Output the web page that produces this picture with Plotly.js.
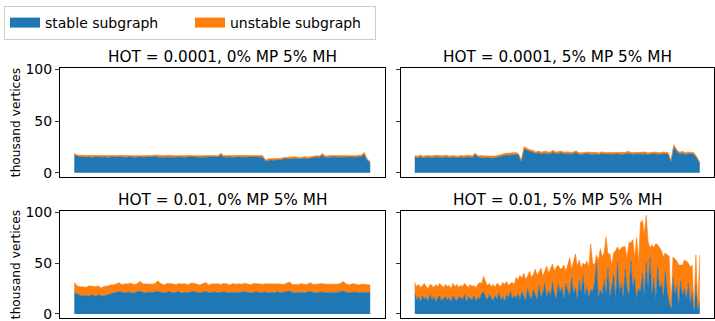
<!DOCTYPE html>
<html><head><meta charset="utf-8">
<script src="https://cdn.plot.ly/plotly-3.0.1.min.js"></script>
<style>html,body{margin:0;padding:0;background:#fff}#chart{width:715px;height:321px}</style>
</head><body><div id="chart"></div>
<script>
const panelTitles = ["HOT = 0.0001, 0% MP 5% MH", "HOT = 0.0001, 5% MP 5% MH", "HOT = 0.01, 0% MP 5% MH", "HOT = 0.01, 5% MP 5% MH"];
const seriesNames = ["stable subgraph", "unstable subgraph"];
const yTickVals = [0, 50, 100];
const yTitle = "thousand vertices";

const stableTL = [17.0,15.8,15.2,15.6,15.0,15.4,14.8,15.3,15.6,15.1,
 15.4,14.9,15.2,15.5,15.0,16.0,15.2,14.8,15.3,15.5,
 14.9,15.3,15.6,15.0,15.2,14.7,15.4,15.8,15.1,15.0,
 15.3,15.5,14.9,15.2,15.0,15.4,15.1,14.8,15.3,15.5,
 15.0,15.2,14.8,15.3,15.1,15.4,15.4,15.0,15.2,17.2,
 15.3,15.1,15.4,14.8,15.2,15.5,15.0,15.3,14.9,15.2,
 15.4,15.1,15.3,15.0,11.0,11.8,12.4,12.0,12.6,12.2,
 13.4,13.8,13.2,13.6,13.9,13.4,13.7,14.0,13.5,14.2,
 14.6,15.0,15.0,16.8,14.9,15.3,15.1,15.4,15.0,15.2,
 15.3,14.9,15.2,15.4,15.0,15.6,15.6,18.0,12.0,9.8];
const unstableTL = [1.6,1.4,1.8,1.2,1.6,1.3,1.9,1.4,1.1,1.7,
 1.5,1.8,1.3,1.2,1.7,1.4,1.6,1.9,1.3,1.5,
 1.8,1.4,1.2,1.6,1.5,1.9,1.3,1.4,1.7,1.6,
 1.3,1.5,1.8,1.4,1.6,1.2,1.7,1.9,1.4,1.3,
 1.6,1.5,1.8,1.3,1.6,1.5,1.4,1.7,1.3,1.8,
 1.4,1.6,1.3,1.9,1.5,1.2,1.7,1.4,1.8,1.5,
 1.3,1.6,1.4,1.7,1.5,1.8,1.3,1.6,1.4,1.7,
 1.5,1.3,1.8,1.4,1.6,1.5,1.2,1.7,1.6,1.4,
 1.5,1.6,1.3,1.8,1.4,1.5,1.7,1.3,1.6,1.5,
 1.4,1.8,1.5,1.3,1.6,1.4,1.5,1.7,1.4,1.2];

const stableTR = [15.0,14.6,15.2,14.4,14.9,15.1,14.5,14.8,15.3,14.6,
 14.9,15.2,14.5,14.8,15.0,14.4,15.1,14.7,14.9,15.2,
 14.6,17.4,15.0,14.8,14.2,14.9,14.5,14.0,14.6,15.3,
 16.0,16.8,17.2,16.9,17.5,17.8,17.3,10.5,23.0,21.4,
 20.5,19.8,18.6,19.2,18.4,19.0,18.5,17.9,20.2,18.3,
 18.8,19.4,18.1,18.6,17.8,18.4,19.5,18.0,17.6,18.2,
 18.5,17.9,18.3,18.0,17.7,18.4,18.1,17.8,18.2,17.9,
 18.3,18.0,17.6,18.2,19.0,18.1,17.8,18.3,17.9,18.0,
 18.2,17.7,18.1,18.4,17.9,18.0,18.3,17.8,18.1,10.5,
 25.0,20.6,18.4,18.9,17.8,18.2,18.5,17.6,14.0,9.0];
const unstableTR = [1.8,1.5,2.0,1.6,1.9,1.4,1.7,2.1,1.5,1.8,
 1.6,1.9,1.5,2.0,1.7,1.6,1.8,1.5,2.1,1.7,
 1.9,1.6,1.5,1.8,2.0,1.4,1.7,1.9,1.6,1.8,
 1.5,1.9,1.7,2.0,1.6,1.8,1.5,1.6,2.2,1.9,
 1.7,2.0,1.6,1.8,1.5,1.9,1.7,2.1,1.6,1.8,
 1.9,1.5,1.8,1.7,2.0,1.6,1.8,1.5,1.9,1.7,
 1.6,1.9,1.7,1.8,1.5,2.0,1.6,1.9,1.7,1.8,
 1.5,1.8,2.0,1.6,1.9,1.7,1.8,1.5,2.1,1.7,
 1.9,1.6,1.8,1.7,2.0,1.5,1.8,1.9,1.6,1.5,
 2.2,1.8,1.6,1.9,1.7,2.0,1.5,1.8,1.4,1.2];

const stableBL = [21.0,19.5,18.2,17.6,18.4,17.8,18.9,17.4,18.6,18.0,
 17.6,18.8,19.5,20.6,21.2,22.0,21.4,20.8,21.6,21.0,
 20.4,21.8,22.6,21.2,20.6,21.5,20.9,21.8,22.4,21.1,
 20.7,21.4,21.9,20.8,21.2,21.7,20.5,21.3,21.0,21.6,
 22.2,21.0,20.6,21.4,21.9,20.8,21.2,21.5,20.9,21.3,
 21.7,21.0,20.6,21.4,21.2,20.8,21.6,22.0,21.1,20.7,
 21.3,21.8,20.9,21.2,21.5,20.6,21.4,21.0,21.7,20.8,
 21.2,21.9,22.8,21.0,20.6,21.4,21.1,20.8,21.5,22.3,
 21.0,20.7,21.3,21.6,20.9,21.2,21.4,20.6,21.1,21.8,
 22.6,21.3,20.8,21.2,21.5,20.9,21.0,21.3,20.8,21.1];
const unstableBL = [9.8,8.0,8.6,9.2,7.8,10.0,8.2,9.4,8.8,7.6,
 9.6,8.4,9.0,7.8,8.2,8.6,7.4,8.8,8.0,9.2,
 8.4,7.8,9.6,8.2,8.8,7.6,8.4,8.0,10.2,8.6,
 7.8,8.4,8.0,8.8,7.6,8.2,9.0,8.4,7.8,8.6,
 8.0,8.6,7.8,8.2,9.0,7.6,8.4,8.0,8.8,7.6,
 8.2,8.6,7.8,8.4,8.0,8.8,7.6,8.2,8.4,8.0,
 8.6,7.8,8.4,8.0,8.2,8.8,7.6,8.4,8.0,8.6,
 7.8,8.2,8.6,8.0,8.4,7.6,8.8,8.2,7.8,8.4,
 8.0,8.6,7.8,8.2,8.4,8.0,7.6,8.8,8.2,8.0,
 9.4,8.2,7.8,8.4,8.0,7.6,8.2,7.8,8.0,7.4];

const stableBR = [20,14,17,12,18,15,16,13,19,14,
 17,12,16,18,13,15,17,14,16,12,
 18,15,13,17,16,14,19,12,17,15,
 14,18,13,16,15,20,22,17,14,19,
 16,13,18,15,21,14,17,12,19,16,
 22,15,18,16,20,14,22,17,13,25,
 18,15,24,19,14,28,17,21,30,16,
 23,18,31,20,15,29,22,26,15,30,
 22,17,36,20,26,14,33,21,38,18,
 27,16,24,22,30,50,16,24,19,34,
 20,45,17,28,38,14,50,22,30,16,
 44,25,18,52,27,35,15,25,22,40,
 18,50,26,55,20,35,14,46,25,30,
 16,42,22,12,5,36,20,28,8,32,
 18,25,14,30,10,22,2,28,4,12];
const unstableBR = [11,13,12,14,10,15,11,12,10,14,
 9,17,11,12,15,11,12,13,12,13,
 12,12,16,9,12,13,11,16,9,14,
 13,10,13,13,16,10,15,15,14,11,
 11,16,8,15,7,13,14,17,13,12,
 8,16,11,20,13,24,13,23,21,12,
 24,21,15,25,24,13,28,16,13,31,
 17,26,18,22,31,19,22,19,33,12,
 28,38,8,32,33,33,20,24,12,30,
 25,30,45,28,18,8,36,40,37,26,
 56,14,42,20,22,48,16,40,35,50,
 22,30,52,18,46,20,60,25,68,52,
 60,47,45,10,48,30,55,22,40,32,
 40,18,36,45,2,20,34,24,40,16,
 30,28,38,20,36,26,4,30,3,46];

const panels = [[stableTL, unstableTL], [stableTR, unstableTR], [stableBL, unstableBL], [stableBR, unstableBR]];
const colors = ["#1f77b4", "#ff7f0e"];

const W = 715, H = 321;
const xDomL = [59.5 / W, 385 / W], xDomR = [400.5 / W, 714 / W];
const yDomT = [1 - 177 / H, 1 - 68 / H], yDomB = [1 - 318 / H, 1 - 211 / H];
const xDoms = [xDomL, xDomR, xDomL, xDomR];
const yDoms = [yDomT, yDomT, yDomB, yDomB];

const traces = [];
panels.forEach((pair, k) => {
  const sfx = k === 0 ? "" : String(k + 1);
  const xs = pair[0].map((_, i) => i);
  pair.forEach((vals, j) => {
    traces.push({
      type: "scatter", mode: "lines", x: xs, y: vals,
      name: seriesNames[j], legendgroup: seriesNames[j], showlegend: false,
      stackgroup: "g" + k, xaxis: "x" + sfx, yaxis: "y" + sfx,
      line: {color: colors[j], width: 0.6}, fillcolor: colors[j],
      hoverinfo: "skip"
    });
  });
});
// legend entries (patch-style keys)
seriesNames.forEach((nm, j) => {
  traces.push({type: "scatter", mode: "lines", x: [null], y: [null], name: nm, legendgroup: nm,
    showlegend: true, xaxis: "x", yaxis: "y", line: {color: colors[j], width: 10}, hoverinfo: "skip"});
});

const layout = {
  width: W, height: H, margin: {l: 0, r: 0, t: 0, b: 0},
  paper_bgcolor: "#fff", plot_bgcolor: "#fff",
  font: {family: "DejaVu Sans", size: 14, color: "#000"},
  showlegend: true,
  legend: {orientation: "h", x: 4 / W, y: 1 - 6 / H, xanchor: "left", yanchor: "top",
    bordercolor: "#cccccc", borderwidth: 1, bgcolor: "#fff", font: {size: 14}, traceorder: "normal",
    entrywidth: 140, entrywidthmode: "pixels"},
  annotations: []
};
panels.forEach((pair, k) => {
  const sfx = k === 0 ? "" : String(k + 1);
  const n = pair[0].length - 1;
  layout["xaxis" + sfx] = {domain: xDoms[k], anchor: "y" + sfx, range: [-0.05 * n, 1.05 * n],
    showticklabels: false, ticks: "", showgrid: false, zeroline: false,
    showline: true, mirror: true, linecolor: "#000", linewidth: 1};
  layout["yaxis" + sfx] = {domain: yDoms[k], anchor: "x" + sfx, range: [-4, 101.2],
    tickvals: yTickVals, ticks: "outside", ticklen: 3.5, tickwidth: 0.8, tickcolor: "#000",
    showticklabels: k % 2 === 0, tickfont: {size: 14}, ticklabeloverflow: "allow",
    showgrid: false, zeroline: false, showline: true, mirror: true, linecolor: "#000", linewidth: 1,
    title: k % 2 === 0 ? {text: yTitle, font: {size: 12.2}} : {text: ""}};
  layout.annotations.push({text: panelTitles[k], xref: "paper", yref: "paper",
    x: (xDoms[k][0] + xDoms[k][1]) / 2, y: yDoms[k][1], xanchor: "center", yanchor: "bottom",
    yshift: 0, showarrow: false, font: {size: 15.3}});
});

Plotly.newPlot("chart", traces, layout, {staticPlot: true, displayModeBar: false});
</script>
</body></html>
